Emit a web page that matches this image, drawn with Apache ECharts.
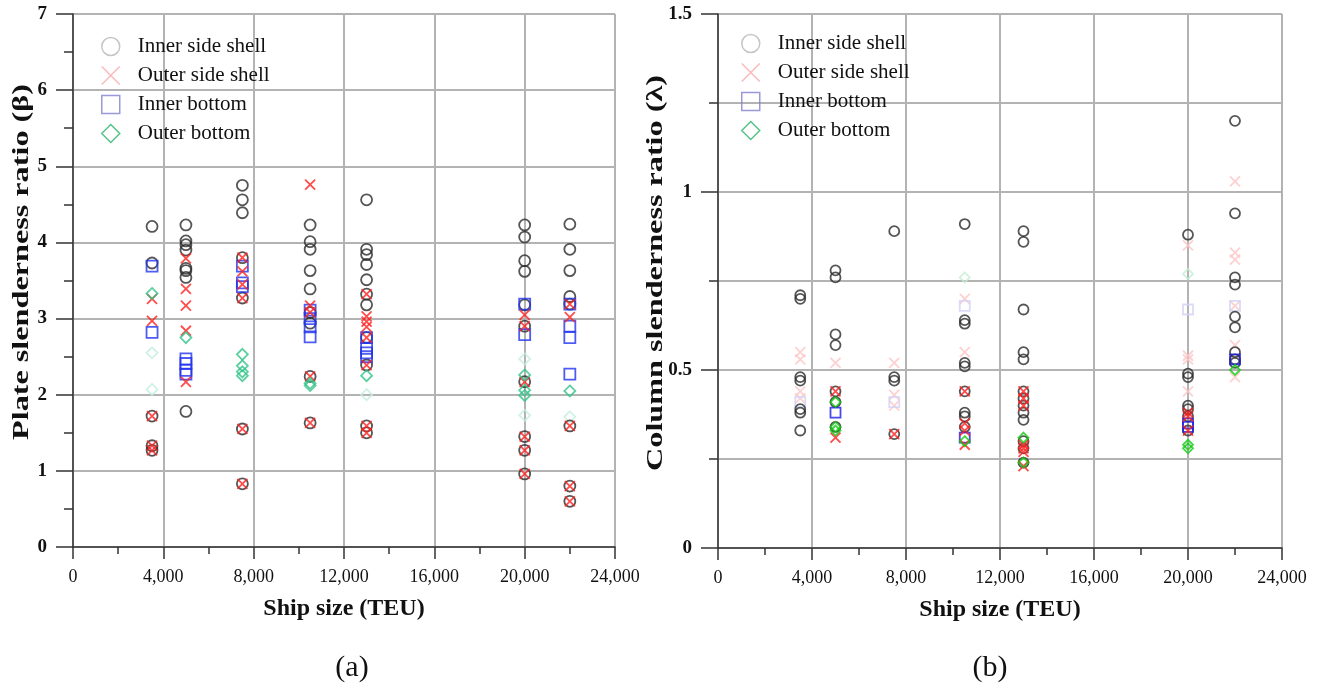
<!DOCTYPE html>
<html>
<head>
<meta charset="utf-8">
<script src="https://cdn.jsdelivr.net/npm/echarts@6/dist/echarts.min.js"></script>
<style>
  html, body { margin: 0; padding: 0; background: #fff; }
  #main { width: 1317px; height: 693px; }
</style>
</head>
<body>
<div id="main"></div>
<script>
// ship sizes shared by both panels
const shipSize = [3500, 5000, 7500, 10500, 13000, 20000, 22000]

// (a) plate slenderness ratio, one list per ship size
const innerSideA = [
    [4.21, 3.73, 1.72, 1.33, 1.27],
    [4.23, 4.02, 3.97, 3.90, 3.66, 3.63, 3.54, 1.78],
    [4.75, 4.56, 4.39, 3.80, 3.27, 1.55, 0.83],
    [4.23, 4.01, 3.91, 3.63, 3.39, 3.08, 2.94, 2.24, 1.63],
    [4.56, 3.91, 3.84, 3.71, 3.51, 3.32, 3.18, 2.75, 2.39, 1.59, 1.50],
    [4.23, 4.07, 3.76, 3.62, 3.18, 2.90, 2.17, 1.45, 1.27, 0.96],
    [4.24, 3.91, 3.63, 3.29, 3.19, 1.59, 0.80, 0.60],
]
const outerSideA = [
    [3.26, 2.97, 1.72, 1.33, 1.27],
    [3.79, 3.39, 3.17, 2.84, 2.17],
    [3.80, 3.62, 3.45, 3.27, 1.55, 0.83],
    [4.76, 3.17, 3.08, 2.24, 1.63],
    [3.32, 3.03, 2.96, 2.89, 2.75, 2.39, 1.59, 1.50],
    [3.05, 2.90, 2.17, 1.45, 1.27, 0.96],
    [3.19, 3.02, 1.59, 0.80, 0.60],
]
const innerBottomA = [
    [3.69, 2.82],
    [2.47, 2.41, 2.32, 2.27],
    [3.69, 3.47, 3.42],
    [3.11, 3.00, 2.89, 2.76],
    [2.75, 2.61, 2.55, 2.50],
    [3.19, 2.79],
    [3.19, 2.90, 2.75, 2.27],
]
const outerBottomA = [
    [3.33],
    [2.75],
    [2.53, 2.38, 2.30, 2.25],
    [2.15, 2.12],
    [2.25],
    [2.26, 2.06, 1.99],
    [2.05],
]
const outerBottomFadedA = [
    [2.55, 2.07],
    [],
    [],
    [],
    [2.00],
    [2.47, 1.73],
    [1.71],
]

// (b) column slenderness ratio
const innerSideB = [
    [0.71, 0.70, 0.48, 0.47, 0.39, 0.38, 0.33],
    [0.78, 0.76, 0.60, 0.57, 0.44, 0.41, 0.34],
    [0.89, 0.48, 0.47, 0.32],
    [0.91, 0.64, 0.63, 0.52, 0.51, 0.44, 0.38, 0.37, 0.34],
    [0.89, 0.86, 0.67, 0.55, 0.53, 0.44, 0.42, 0.40, 0.38, 0.36, 0.30, 0.28, 0.24],
    [0.88, 0.49, 0.48, 0.40, 0.39, 0.37, 0.33],
    [1.20, 0.94, 0.76, 0.74, 0.65, 0.62, 0.55, 0.53, 0.52],
]
const outerSideB = [
    [],
    [0.44, 0.31],
    [0.32],
    [0.44, 0.35, 0.33, 0.29],
    [0.44, 0.42, 0.40, 0.29, 0.28, 0.27, 0.23],
    [0.38, 0.37, 0.33],
    [],
]
const outerSideFadedB = [
    [0.55, 0.53, 0.44, 0.42],
    [0.52],
    [0.52, 0.43, 0.40],
    [0.70, 0.55],
    [],
    [0.85, 0.54, 0.53, 0.44],
    [1.03, 0.83, 0.81, 0.68, 0.57, 0.48],
]
const innerBottomB = [
    [],
    [0.38],
    [],
    [0.31],
    [],
    [0.35, 0.34],
    [0.53],
]
const innerBottomFadedB = [
    [0.41],
    [],
    [0.41],
    [0.68],
    [],
    [0.67],
    [0.68],
]
const outerBottomB = [
    [],
    [0.41, 0.34, 0.33],
    [],
    [0.30],
    [0.31, 0.24],
    [0.29, 0.28],
    [0.50],
]
const outerBottomFadedB = [
    [],
    [],
    [],
    [0.76],
    [],
    [0.77],
    [],
]

const names = ["Inner side shell", "Outer side shell", "Inner bottom", "Outer bottom"]
const serif = "Liberation Serif"
const crossPath = "path://M0,0L10,10M10,0L0,10"

// turn per-size lists into [teu, value] points
function pts(lists) {
    const out = []
    lists.forEach((vals, i) => vals.forEach(v => out.push([shipSize[i], v])))
    return out
}

function sc(name, gi, lists, symbol, color, size, z) {
    return {
        type: "scatter",
        name,
        xAxisIndex: gi,
        yAxisIndex: gi,
        data: pts(lists),
        symbol,
        symbolSize: size,
        z,
        silent: true,
        itemStyle: { color: "rgba(0,0,0,0)", borderColor: color, borderWidth: 1.8 },
    }
}

function xAxis(gi) {
    return {
        gridIndex: gi,
        type: "value",
        min: 0,
        max: 24000,
        interval: 4000,
        name: "Ship size (TEU)",
        nameLocation: "middle",
        nameGap: 50,
        nameTextStyle: { fontFamily: serif, fontWeight: "bold", fontSize: 24, color: "#111" },
        axisLine: { onZero: false, lineStyle: { color: "#333", width: 1.5 } },
        axisTick: { length: 12, lineStyle: { color: "#333", width: 1.5 } },
        minorTick: { show: true, splitNumber: 2, length: 7, lineStyle: { color: "#333", width: 1.5 } },
        axisLabel: {
            margin: 21,
            fontFamily: serif,
            fontSize: 18,
            color: "#111",
            formatter: v => v.toLocaleString("en-US"),
        },
        splitLine: { show: true, lineStyle: { color: "#b3b3b3", width: 2 } },
    }
}

// y titles are drawn as graphic text (stretched like the original figure)
function yAxis(gi, max, interval, minorGrid) {
    return {
        gridIndex: gi,
        type: "value",
        min: 0,
        max,
        interval,
        axisLine: { onZero: false, lineStyle: { color: "#333", width: 1.5 } },
        axisTick: { length: 17, lineStyle: { color: "#333", width: 1.5 } },
        minorTick: { show: true, splitNumber: 2, length: 9, lineStyle: { color: "#333", width: 1.5 } },
        axisLabel: { margin: 26, fontFamily: serif, fontWeight: "bold", fontSize: 19, color: "#111" },
        splitLine: { show: true, lineStyle: { color: "#b3b3b3", width: 2 } },
        minorSplitLine: { show: minorGrid, lineStyle: { color: "#b3b3b3", width: 2 } },
    }
}

function legend(left, top) {
    const base = { color: "rgba(0,0,0,0)", borderWidth: 1.5 }
    return {
        orient: "vertical",
        left,
        top,
        itemWidth: 18,
        itemHeight: 18,
        itemGap: 8,
        selectedMode: false,
        textStyle: { fontFamily: serif, fontSize: 21, color: "#111", padding: [0, 0, 0, 13] },
        data: [
            { name: names[0], icon: "circle", itemStyle: Object.assign({}, base, { borderColor: "#b8b8b8" }) },
            { name: names[1], icon: crossPath, itemStyle: Object.assign({}, base, { borderColor: "#f9a9a9" }) },
            { name: names[2], icon: "rect", itemStyle: Object.assign({}, base, { borderColor: "#8080d0" }) },
            { name: names[3], icon: "diamond", itemStyle: Object.assign({}, base, { borderColor: "#2db36b" }) },
        ],
    }
}

function vTitle(text, x, y) {
    return {
        type: "text",
        x,
        y,
        rotation: Math.PI / 2,
        scaleX: 1.4,
        style: { text, font: 'bold 23px "Liberation Serif"', fill: "#111", align: "center", verticalAlign: "middle" },
    }
}

function caption(text, x) {
    return {
        type: "text",
        x,
        y: 668,
        style: { text, font: '30px "Liberation Serif"', fill: "#111", align: "center", verticalAlign: "middle" },
    }
}

const myChart = echarts.init(document.getElementById("main"), null, { renderer: "canvas" })

const option = {
    animation: false,
    backgroundColor: "#fff",
    grid: [
        { left: 73, top: 14, width: 542, height: 533 },
        { left: 718, top: 14, width: 564, height: 534 },
    ],
    xAxis: [xAxis(0), xAxis(1)],
    yAxis: [yAxis(0, 7, 1, false), yAxis(1, 1.5, 0.5, true)],
    legend: [legend(96, 31), legend(736, 28)],
    series: [
        // (a)
        sc(names[3], 0, outerBottomFadedA, "diamond", "#c4eedc", 11, 2),
        sc(names[0], 0, innerSideA, "circle", "#2a2a2a", 11, 3),
        sc(names[2], 0, innerBottomA, "rect", "#2233ee", 11, 4),
        sc(names[1], 0, outerSideA, crossPath, "#ff2020", 10, 5),
        sc(names[3], 0, outerBottomA, "diamond", "#33c38a", 11, 6),
        // (b)
        sc(names[1], 1, outerSideFadedB, crossPath, "#fcc6c6", 10, 2),
        sc(names[2], 1, innerBottomFadedB, "rect", "#d2d2f6", 10, 2),
        sc(names[3], 1, outerBottomFadedB, "diamond", "#c4eed4", 10, 2),
        sc(names[0], 1, innerSideB, "circle", "#2a2a2a", 10, 3),
        sc(names[2], 1, innerBottomB, "rect", "#1a1ae6", 10, 4),
        sc(names[1], 1, outerSideB, crossPath, "#ff2020", 10, 5),
        sc(names[3], 1, outerBottomB, "diamond", "#11cc11", 10, 6),
    ],
    graphic: [
        vTitle("Plate slenderness ratio (\u03b2)", 22, 262),
        vTitle("Column slenderness ratio (\u03bb)", 656, 273),
        caption("(a)", 352),
        caption("(b)", 990),
    ],
}

myChart.setOption(option)
</script>
</body>
</html>
